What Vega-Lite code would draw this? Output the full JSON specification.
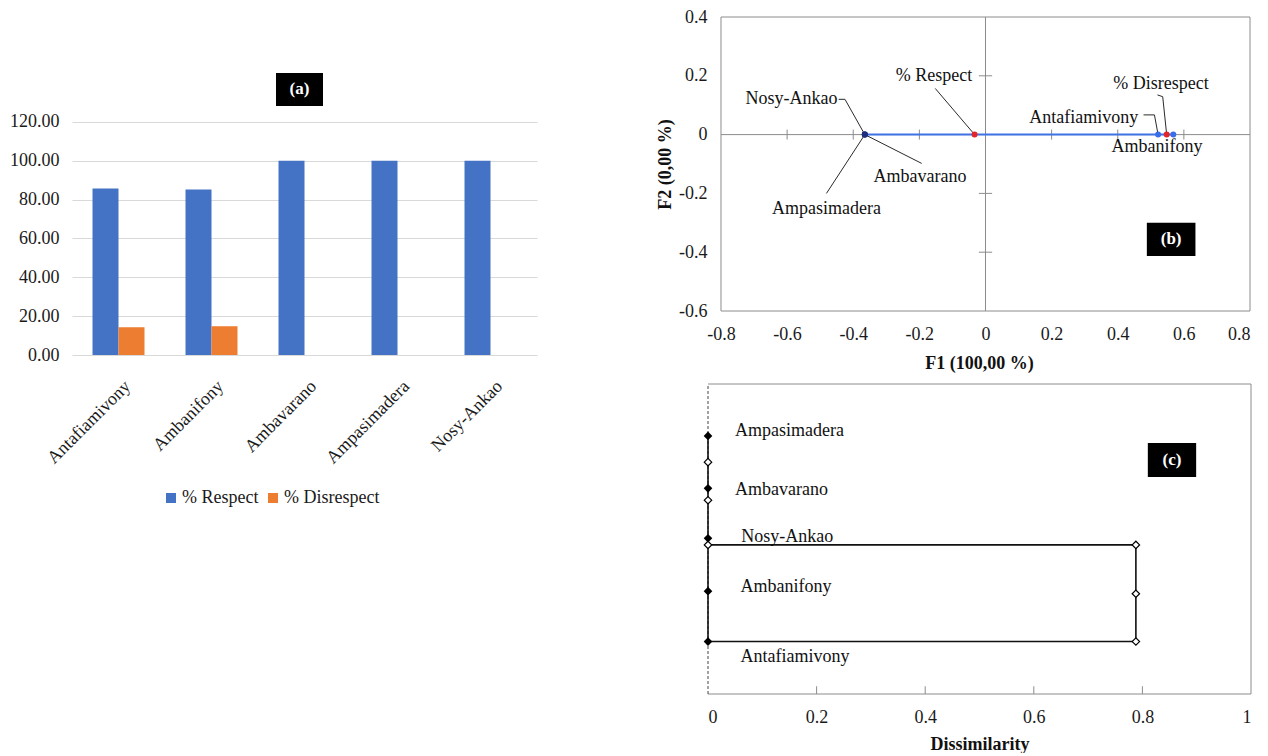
{
  "$schema": "https://vega.github.io/schema/vega-lite/v6.json",
  "padding": {"left": 9, "top": 8, "right": 2, "bottom": 0},
  "background": "white",
  "config": {
    "font": "Liberation Serif",
    "view": {"stroke": null},
    "axis": {"labelFont": "Liberation Serif", "titleFont": "Liberation Serif", "labelFontSize": 18, "titleFontSize": 18, "labelColor": "#1a1a1a", "titleColor": "#111111", "grid": false, "domain": false, "ticks": false},
    "legend": {"labelFont": "Liberation Serif", "labelFontSize": 18, "labelColor": "#1a1a1a"},
    "text": {"font": "Liberation Serif"}
  },
  "datasets": {
    "bars": [
      {"village": "Antafiamivony", "series": "% Respect", "value": 85.71},
      {"village": "Antafiamivony", "series": "% Disrespect", "value": 14.29},
      {"village": "Ambanifony", "series": "% Respect", "value": 85.19},
      {"village": "Ambanifony", "series": "% Disrespect", "value": 14.81},
      {"village": "Ambavarano", "series": "% Respect", "value": 100},
      {"village": "Ambavarano", "series": "% Disrespect", "value": 0},
      {"village": "Ampasimadera", "series": "% Respect", "value": 100},
      {"village": "Ampasimadera", "series": "% Disrespect", "value": 0},
      {"village": "Nosy-Ankao", "series": "% Respect", "value": 100},
      {"village": "Nosy-Ankao", "series": "% Disrespect", "value": 0}
    ],
    "gridB": [
      {"x": -0.8, "y": -0.6, "x2": 0.8, "y2": -0.6},
      {"x": -0.8, "y": 0.4, "x2": 0.8, "y2": 0.4},
      {"x": -0.8, "y": -0.6, "x2": -0.8, "y2": 0.4},
      {"x": 0.8, "y": -0.6, "x2": 0.8, "y2": 0.4},
      {"x": 0, "y": -0.6, "x2": 0, "y2": 0.4},
      {"x": -0.8, "y": 0, "x2": 0.8, "y2": 0},
      {"x": -0.6, "y": -0.017, "x2": -0.6, "y2": 0.017},
      {"x": -0.4, "y": -0.017, "x2": -0.4, "y2": 0.017},
      {"x": -0.2, "y": -0.017, "x2": -0.2, "y2": 0.017},
      {"x": 0.2, "y": -0.017, "x2": 0.2, "y2": 0.017},
      {"x": 0.4, "y": -0.017, "x2": 0.4, "y2": 0.017},
      {"x": 0.6, "y": -0.017, "x2": 0.6, "y2": 0.017},
      {"x": -0.02, "y": -0.4, "x2": 0.02, "y2": -0.4},
      {"x": -0.02, "y": -0.2, "x2": 0.02, "y2": -0.2},
      {"x": -0.02, "y": 0.2, "x2": 0.02, "y2": 0.2}
    ],
    "leadB": [
      {"x": -0.444, "y": 0.12, "x2": -0.425, "y2": 0.12},
      {"x": -0.425, "y": 0.12, "x2": -0.365, "y2": 0},
      {"x": -0.365, "y": 0, "x2": -0.193, "y2": -0.098},
      {"x": -0.365, "y": 0, "x2": -0.481, "y2": -0.2},
      {"x": -0.152, "y": 0.157, "x2": -0.033, "y2": 0},
      {"x": 0.52, "y": 0.135, "x2": 0.536, "y2": 0.129},
      {"x": 0.536, "y": 0.129, "x2": 0.548, "y2": 0},
      {"x": 0.478, "y": 0.067, "x2": 0.511, "y2": 0.067},
      {"x": 0.511, "y": 0.067, "x2": 0.522, "y2": 0}
    ],
    "labB": [
      {"text": "Nosy-Ankao", "x": -0.587, "y": 0.12},
      {"text": "Ambavarano", "x": -0.198, "y": -0.143},
      {"text": "Ampasimadera", "x": -0.481, "y": -0.254},
      {"text": "% Respect", "x": -0.156, "y": 0.199},
      {"text": "% Disrespect", "x": 0.531, "y": 0.172},
      {"text": "Antafiamivony", "x": 0.297, "y": 0.055},
      {"text": "Ambanifony", "x": 0.519, "y": -0.041}
    ],
    "frameC": [
      {"x": 0, "y": 6.03, "x2": 1, "y2": 6.03},
      {"x": 1, "y": 0, "x2": 1, "y2": 6.03},
      {"x": 0, "y": 0, "x2": 1, "y2": 0},
      {"x": 0.2, "y": 0, "x2": 0.2, "y2": 0.15},
      {"x": 0.4, "y": 0, "x2": 0.4, "y2": 0.15},
      {"x": 0.6, "y": 0, "x2": 0.6, "y2": 0.15},
      {"x": 0.8, "y": 0, "x2": 0.8, "y2": 0.15}
    ],
    "dendroC": [
      {"x": 0, "y": 1.02, "x2": 0, "y2": 5.02},
      {"x": 0, "y": 2.9, "x2": 0.788, "y2": 2.9},
      {"x": 0, "y": 1.02, "x2": 0.788, "y2": 1.02},
      {"x": 0.788, "y": 1.02, "x2": 0.788, "y2": 2.9}
    ],
    "leafC": [
      {"x": 0, "y": 5.02},
      {"x": 0, "y": 4.0},
      {"x": 0, "y": 3.03},
      {"x": 0, "y": 2.0},
      {"x": 0, "y": 1.02}
    ],
    "nodeC": [
      {"x": 0, "y": 4.51},
      {"x": 0, "y": 3.77},
      {"x": 0, "y": 2.9},
      {"x": 0.788, "y": 2.9},
      {"x": 0.788, "y": 1.95},
      {"x": 0.788, "y": 1.02}
    ],
    "labC": [
      {"text": "Ampasimadera", "x": 0.0498, "y": 5.12},
      {"text": "Ambavarano", "x": 0.0498, "y": 3.96},
      {"text": "Nosy-Ankao", "x": 0.0614, "y": 3.06},
      {"text": "Ambanifony", "x": 0.06, "y": 2.09},
      {"text": "Antafiamivony", "x": 0.06, "y": 0.72}
    ]
  },
  "spacing": 119,
  "hconcat": [
    {
      "width": 465,
      "height": 338,
      "encoding": {
        "x": {"field": "village", "type": "nominal", "scale": {"domain": ["Antafiamivony", "Ambanifony", "Ambavarano", "Ampasimadera", "Nosy-Ankao"], "paddingInner": 0, "paddingOuter": 0}, "axis": {"title": null, "labelAngle": -45, "labelPadding": 22, "labelOffset": 3}},
        "y": {"field": "value", "type": "quantitative", "stack": null, "scale": {"domain": [0, 174], "nice": false}, "axis": {"title": null, "values": [0, 20, 40, 60, 80, 100, 120], "format": ".2f", "grid": true, "gridColor": "#d9d9d9", "labelPadding": 13}}
      },
      "layer": [
        {
          "data": {"name": "bars"},
          "mark": {"type": "bar"},
          "encoding": {
            "xOffset": {"field": "series", "type": "nominal", "scale": {"domain": ["% Respect", "% Disrespect"], "paddingInner": 0, "paddingOuter": 0.789}},
            "color": {"field": "series", "type": "nominal", "scale": {"domain": ["% Respect", "% Disrespect"], "range": ["#4472C4", "#ED7D31"]}, "legend": {"title": null, "orient": "none", "legendX": 90, "legendY": 472, "direction": "horizontal", "symbolType": "square", "symbolSize": 100, "symbolStrokeWidth": 0, "labelOffset": 2, "columnPadding": 5}}
          }
        },
        {
          "data": {"values": [{"village": "Ambavarano", "value": 128.2, "value2": 145.2}]},
          "mark": {"type": "bar", "color": "#000000", "width": 47, "xOffset": -5},
          "encoding": {"y2": {"field": "value2"}}
        },
        {
          "data": {"values": [{"village": "Ambavarano", "value": 136.7, "label": "(a)"}]},
          "mark": {"type": "text", "color": "#ffffff", "fontSize": 17, "fontWeight": "bold", "dx": -5, "baseline": "middle"},
          "encoding": {"text": {"field": "label"}}
        }
      ]
    },
    {
      "spacing": 11,
      "vconcat": [
        {
          "width": 542,
          "height": 294,
          "encoding": {
            "x": {"field": "x", "type": "quantitative", "scale": {"domain": [-0.8393, 0.8], "nice": false, "zero": false}, "axis": {"title": "F1 (100,00 %)", "titleFontWeight": "bold", "values": [-0.8, -0.6, -0.4, -0.2, 0, 0.2, 0.4, 0.6, 0.8], "labelExpr": "'' + datum.value", "labelPadding": 14, "titlePadding": 11}},
            "y": {"field": "y", "type": "quantitative", "scale": {"domain": [-0.6, 0.4], "nice": false, "zero": false}, "axis": {"title": "F2 (0,00 %)", "titleFontWeight": "bold", "values": [-0.6, -0.4, -0.2, 0, 0.2, 0.4], "labelExpr": "'' + datum.value", "labelPadding": 1, "titlePadding": 4}}
          },
          "layer": [
            {"data": {"name": "gridB"}, "mark": {"type": "rule", "color": "#8c8c8c", "strokeWidth": 1}, "encoding": {"x2": {"field": "x2"}, "y2": {"field": "y2"}}},
            {"data": {"values": [{"x": -0.365, "y": 0, "x2": 0.568, "y2": 0}]}, "mark": {"type": "rule", "color": "#3f72e6", "strokeWidth": 2}, "encoding": {"x2": {"field": "x2"}, "y2": {"field": "y2"}}},
            {"data": {"name": "leadB"}, "mark": {"type": "rule", "color": "#2a2a2a", "strokeWidth": 1}, "encoding": {"x2": {"field": "x2"}, "y2": {"field": "y2"}}},
            {"data": {"values": [{"name": "Nosy-Ankao", "x": -0.365, "y": 0}, {"name": "Ambavarano", "x": -0.365, "y": 0}, {"name": "Ampasimadera", "x": -0.365, "y": 0}]}, "mark": {"type": "circle", "size": 36, "color": "#1c2e7c", "opacity": 1}, "encoding": {}},
            {"data": {"values": [{"name": "Antafiamivony", "x": 0.522, "y": 0}, {"name": "Ambanifony", "x": 0.568, "y": 0}]}, "mark": {"type": "circle", "size": 36, "color": "#3a6ee8", "opacity": 1}, "encoding": {}},
            {"data": {"values": [{"name": "% Respect", "x": -0.033, "y": 0}, {"name": "% Disrespect", "x": 0.548, "y": 0}]}, "mark": {"type": "circle", "size": 36, "color": "#e3242b", "opacity": 1}, "encoding": {}},
            {"data": {"name": "labB"}, "mark": {"type": "text", "fontSize": 18, "color": "#111111", "align": "center", "baseline": "middle"}, "encoding": {"text": {"field": "text"}}},
            {"data": {"values": [{"x": 0.488, "x2": 0.635, "y": -0.413, "y2": -0.3}]}, "mark": {"type": "rect", "color": "#000000"}, "encoding": {"x2": {"field": "x2"}, "y2": {"field": "y2"}}},
            {"data": {"values": [{"x": 0.5615, "y": -0.356, "text": "(b)"}]}, "mark": {"type": "text", "fontSize": 17, "fontWeight": "bold", "color": "#ffffff", "align": "center", "baseline": "middle"}, "encoding": {"text": {"field": "text"}}}
          ]
        },
        {
          "width": 543,
          "height": 310,
          "encoding": {
            "x": {"field": "x", "type": "quantitative", "scale": {"domain": [0, 1], "nice": false, "zero": false}, "axis": {"title": "Dissimilarity", "titleFontWeight": "bold", "values": [0, 0.2, 0.4, 0.6, 0.8, 1], "labelExpr": "'' + datum.value", "labelPadding": 14, "titlePadding": 9}},
            "y": {"field": "y", "type": "quantitative", "scale": {"domain": [0, 6.03], "nice": false, "zero": false}, "axis": null}
          },
          "layer": [
            {"data": {"name": "frameC"}, "mark": {"type": "rule", "color": "#8c8c8c", "strokeWidth": 1}, "encoding": {"x2": {"field": "x2"}, "y2": {"field": "y2"}}},
            {"data": {"values": [{"x": 0, "y": 0, "x2": 0, "y2": 6.03}]}, "mark": {"type": "rule", "color": "#444444", "strokeWidth": 1, "strokeDash": [3, 2]}, "encoding": {"x2": {"field": "x2"}, "y2": {"field": "y2"}}},
            {"data": {"name": "dendroC"}, "mark": {"type": "rule", "color": "#111111", "strokeWidth": 1.6}, "encoding": {"x2": {"field": "x2"}, "y2": {"field": "y2"}}},
            {"data": {"name": "leafC"}, "mark": {"type": "point", "shape": "diamond", "filled": true, "color": "#000000", "size": 75, "opacity": 1}, "encoding": {}},
            {"data": {"name": "nodeC"}, "mark": {"type": "point", "shape": "diamond", "filled": true, "fill": "#ffffff", "stroke": "#000000", "strokeWidth": 1.2, "size": 55, "opacity": 1}, "encoding": {}},
            {"data": {"name": "labC"}, "mark": {"type": "text", "fontSize": 18, "color": "#111111", "align": "left", "baseline": "middle"}, "encoding": {"text": {"field": "text"}}},
            {"data": {"values": [{"x": 0.81, "x2": 0.899, "y": 4.22, "y2": 4.88}]}, "mark": {"type": "rect", "color": "#000000"}, "encoding": {"x2": {"field": "x2"}, "y2": {"field": "y2"}}},
            {"data": {"values": [{"x": 0.8545, "y": 4.55, "text": "(c)"}]}, "mark": {"type": "text", "fontSize": 17, "fontWeight": "bold", "color": "#ffffff", "align": "center", "baseline": "middle"}, "encoding": {"text": {"field": "text"}}}
          ]
        }
      ]
    }
  ]
}
